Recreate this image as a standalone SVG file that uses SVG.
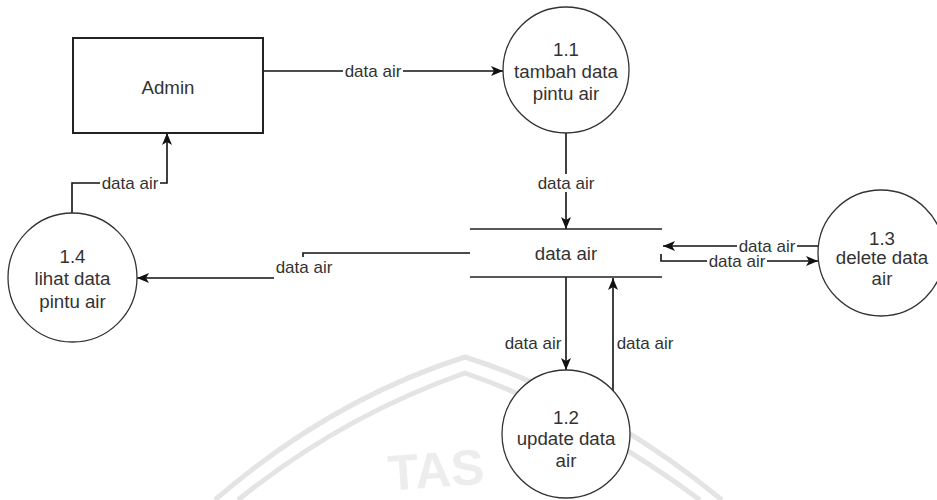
<svg xmlns="http://www.w3.org/2000/svg" width="937" height="500" viewBox="0 0 937 500">
  <style>
    .node { fill: #ffffff; stroke: #333333; stroke-width: 1.3; }
    .box { fill: #ffffff; stroke: #222222; stroke-width: 2; }
    .store { stroke: #222222; stroke-width: 1.6; fill: none; }
    .flow { fill: none; stroke: #111111; stroke-width: 1.6; marker-end: url(#arrow); }
    .ntext { font-family: "Liberation Sans", Arial, sans-serif; font-size: 18.7px; fill: #333333; text-anchor: middle; }
    .ltext { font-family: "Liberation Sans", Arial, sans-serif; font-size: 17px; fill: #333333; text-anchor: middle; }
    .lbg { fill: #ffffff; }
    .mark { fill: none; stroke: #e4e4e4; stroke-width: 5; }
    .marktext { font-family: "Liberation Sans", Arial, sans-serif; font-size: 50px; font-weight: bold; fill: #ededed; }
  </style>
  <defs>
    <marker id="arrow" markerUnits="userSpaceOnUse" markerWidth="13" markerHeight="11" refX="12" refY="5" orient="auto">
      <path d="M0,0 L12,5 L0,10 L3,5 Z" fill="#111111"/>
    </marker>
  </defs>

  <rect width="937" height="500" fill="#ffffff"/>

  <!-- faint background emblem -->
  <g id="emblem">
    <path class="mark" d="M215,500 Q330,400 465,357 Q600,400 722,500"/>
    <path class="mark" d="M238,500 Q342,416 465,373 Q588,416 700,500"/>
    <text class="marktext" x="388" y="487" transform="rotate(-4 438 470)">TAS</text>
  </g>

  <!-- connectors -->
  <g id="connectors">
    <path class="flow" d="M263,71 H503"/>
    <path class="flow" d="M566,133 V229"/>
    <path class="flow" d="M470,253 H303 V278 H137"/>
    <path class="flow" d="M72,213 V183 H167 V133"/>
    <path class="flow" d="M818,246 H663"/>
    <path class="flow" d="M661,254 V261 H818"/>
    <path class="flow" d="M566,277 V370"/>
    <path class="flow" d="M613,391 V278"/>

    <!-- connector labels -->
    <rect class="lbg" x="343" y="62" width="60" height="18"/>
    <text class="ltext" x="373" y="77">data air</text>

    <rect class="lbg" x="536" y="174" width="60" height="18"/>
    <text class="ltext" x="566" y="189">data air</text>

    <rect class="lbg" x="100" y="174" width="60" height="18"/>
    <text class="ltext" x="130" y="189">data air</text>

    <rect class="lbg" x="274" y="257" width="60" height="23"/>
    <text class="ltext" x="304" y="273">data air</text>

    <rect class="lbg" x="737" y="237" width="60" height="18"/>
    <text class="ltext" x="767" y="252">data air</text>

    <rect class="lbg" x="707" y="253" width="60" height="17"/>
    <text class="ltext" x="737" y="267">data air</text>

    <rect class="lbg" x="503" y="334" width="60" height="18"/>
    <text class="ltext" x="533" y="349">data air</text>

    <rect class="lbg" x="615" y="334" width="60" height="18"/>
    <text class="ltext" x="645" y="349">data air</text>
  </g>

  <!-- external entity -->
  <g id="admin">
    <rect class="box" x="73" y="38" width="190" height="95"/>
    <text class="ntext" x="168" y="93.5">Admin</text>
  </g>

  <!-- processes -->
  <g id="p1-1">
    <circle class="node" cx="566" cy="70" r="63"/>
    <text class="ntext" x="566" y="55.5">1.1<tspan x="566" y="78">tambah data</tspan><tspan x="566" y="100">pintu air</tspan></text>
  </g>

  <g id="p1-4">
    <circle class="node" cx="72.5" cy="277.5" r="64.5"/>
    <text class="ntext" x="72.5" y="262.5">1.4<tspan x="72.5" y="285">lihat data</tspan><tspan x="72.5" y="307.5">pintu air</tspan></text>
  </g>

  <g id="p1-3">
    <circle class="node" cx="881" cy="253" r="63"/>
    <text class="ntext" x="882" y="244.5">1.3<tspan x="882" y="263.5">delete data</tspan><tspan x="882" y="284.5">air</tspan></text>
  </g>

  <g id="p1-2">
    <circle class="node" cx="566" cy="434" r="64"/>
    <text class="ntext" x="566" y="423.5">1.2<tspan x="566" y="444.5">update data</tspan><tspan x="566" y="466.5">air</tspan></text>
  </g>

  <!-- data store -->
  <g id="store-data-air">
    <path class="store" d="M470,229 H662 M470,277 H662"/>
    <text class="ntext" x="566" y="259.5">data air</text>
  </g>
</svg>
